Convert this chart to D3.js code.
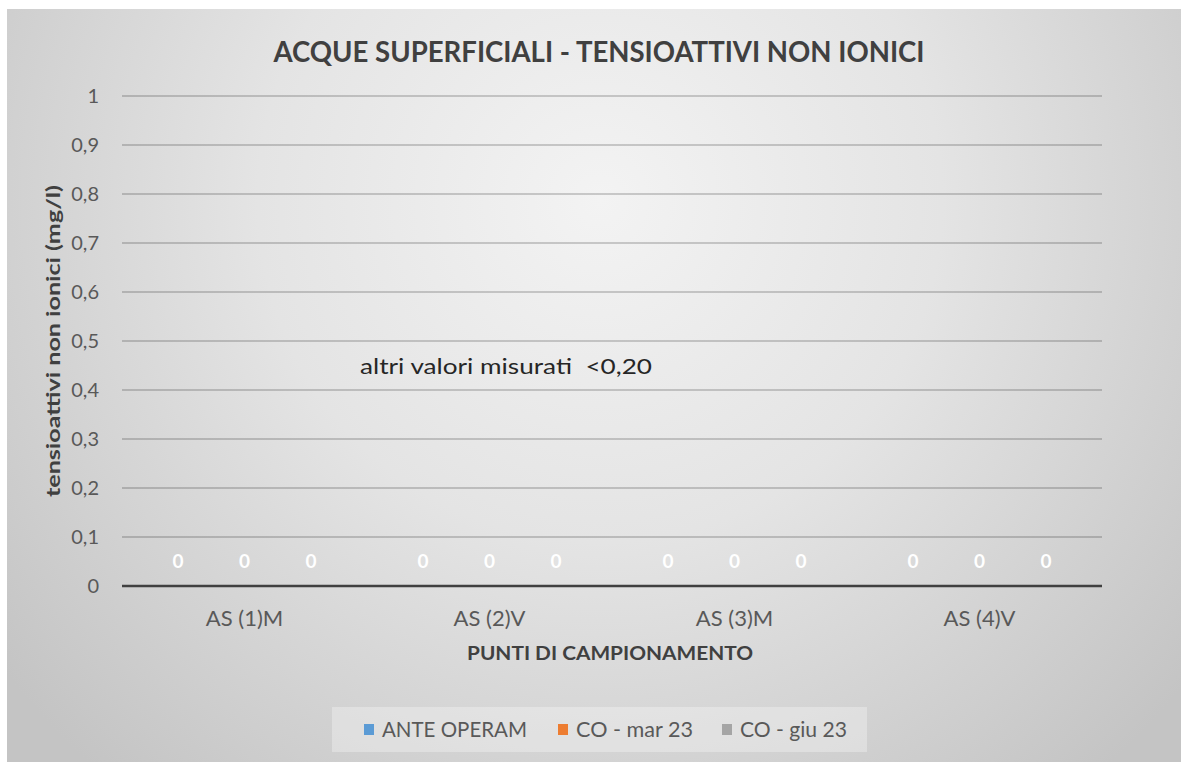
<!DOCTYPE html>
<html>
<head>
<meta charset="utf-8">
<script src="https://cdn.jsdelivr.net/npm/d3@7"></script>
<style>
  body { margin: 0; background: #fff; }
  text { font-family: Lato, "Open Sans", sans-serif; }
</style>
</head>
<body>
<script>
// data
var categories = ["AS (1)M", "AS (2)V", "AS (3)M", "AS (4)V"];
var seriesNames = ["ANTE OPERAM", "CO - mar 23", "CO - giu 23"];
var anteOperam = [0, 0, 0, 0];
var coMar23 = [0, 0, 0, 0];
var coGiu23 = [0, 0, 0, 0];
var yTicks = [0, 0.1, 0.2, 0.3, 0.4, 0.5, 0.6, 0.7, 0.8, 0.9, 1];
var colors = ["#5b9bd5", "#ed7d31", "#a5a5a5"];

var series = [anteOperam, coMar23, coGiu23];

var W = 1181, H = 762;
var margin = {top: 96, right: 79, bottom: 176, left: 122},
    width = W - margin.left - margin.right,
    height = H - margin.top - margin.bottom;

var svg = d3.select("body").append("svg")
    .attr("width", W)
    .attr("height", H);

// background gradient
var defs = svg.append("defs");
var grad = defs.append("radialGradient")
    .attr("id", "bg")
    .attr("gradientUnits", "userSpaceOnUse")
    .attr("cx", 600).attr("cy", 200).attr("r", 760);
grad.append("stop").attr("offset", 0).attr("stop-color", "#f3f3f3");
grad.append("stop").attr("offset", 0.45).attr("stop-color", "#e4e4e4");
grad.append("stop").attr("offset", 1).attr("stop-color", "#c4c4c4");

svg.append("rect")
    .attr("x", 7).attr("y", 9)
    .attr("width", W - 7).attr("height", H - 9)
    .attr("fill", "url(#bg)");

var g = svg.append("g")
    .attr("transform", "translate(" + margin.left + "," + margin.top + ")");

var x0 = d3.scaleBand()
    .domain(categories)
    .range([0, width]);

var x1 = d3.scaleBand()
    .domain(d3.range(seriesNames.length))
    .range([0, x0.bandwidth()])
    .paddingOuter(0.34);

var y = d3.scaleLinear()
    .domain([0, 1])
    .range([height, 0]);

// gridlines
g.selectAll(".grid")
    .data(yTicks.filter(function(d) { return d > 0; }))
    .enter().append("line")
    .attr("x1", 0).attr("x2", width)
    .attr("y1", function(d) { return y(d); })
    .attr("y2", function(d) { return y(d); })
    .attr("stroke", "#000")
    .attr("stroke-opacity", 0.24)
    .attr("stroke-width", 1.5);

// y axis labels
var yAxis = d3.axisLeft(y)
    .tickValues(yTicks)
    .tickSize(0)
    .tickPadding(23)
    .tickFormat(function(d) { return String(+d.toFixed(1)).replace(".", ","); });

var ya = g.append("g").call(yAxis);
ya.select(".domain").remove();
ya.selectAll("text")
    .attr("fill", "#595959")
    .style("font-size", "20px")
    .style("font-family", "Lato, sans-serif");

// bars (all zero)
var groups = g.selectAll(".cat")
    .data(categories)
    .enter().append("g")
    .attr("transform", function(d) { return "translate(" + x0(d) + ",0)"; });

groups.selectAll("rect")
    .data(function(d, i) { return series.map(function(s, k) { return {k: k, v: s[i]}; }); })
    .enter().append("rect")
    .attr("x", function(d) { return x1(d.k); })
    .attr("width", x1.bandwidth())
    .attr("y", function(d) { return y(d.v); })
    .attr("height", function(d) { return height - y(d.v); })
    .attr("fill", function(d) { return colors[d.k]; });

groups.selectAll(".lbl")
    .data(function(d, i) { return series.map(function(s, k) { return {k: k, v: s[i]}; }); })
    .enter().append("text")
    .attr("x", function(d) { return x1(d.k) + x1.bandwidth() / 2; })
    .attr("y", function(d) { return y(d.v) - 18; })
    .attr("text-anchor", "middle")
    .attr("fill", "#fff")
    .style("font-size", "19px")
    .style("font-weight", "bold")
    .style("font-family", "Lato, sans-serif")
    .text(function(d) { return d.v; });

// zero axis line
g.append("line")
    .attr("x1", 0).attr("x2", width)
    .attr("y1", y(0)).attr("y2", y(0))
    .attr("stroke", "#404040")
    .attr("stroke-width", 2.5);

// x axis labels
var xAxis = d3.axisBottom(x0).tickSize(0).tickPadding(24);
var xa = g.append("g")
    .attr("transform", "translate(0," + height + ")")
    .call(xAxis);
xa.select(".domain").remove();
xa.selectAll("text")
    .attr("fill", "#595959")
    .style("font-size", "22px")
    .style("font-family", "Lato, sans-serif");

// titles
svg.append("text")
    .attr("x", 599).attr("y", 62)
    .attr("text-anchor", "middle")
    .attr("fill", "#404040")
    .style("font-size", "28px")
    .style("font-weight", "bold")
    .attr("textLength", 651)
    .attr("lengthAdjust", "spacingAndGlyphs")
    .text("ACQUE SUPERFICIALI - TENSIOATTIVI NON IONICI");

svg.append("text")
    .attr("x", 610).attr("y", 660)
    .attr("text-anchor", "middle")
    .attr("fill", "#404040")
    .style("font-size", "18px")
    .style("font-weight", "bold")
    .attr("textLength", 286)
    .attr("lengthAdjust", "spacingAndGlyphs")
    .text("PUNTI DI CAMPIONAMENTO");

svg.append("text")
    .attr("transform", "translate(60,341) rotate(-90)")
    .attr("text-anchor", "middle")
    .attr("fill", "#404040")
    .style("font-size", "18px")
    .style("font-weight", "bold")
    .attr("textLength", 312)
    .attr("lengthAdjust", "spacingAndGlyphs")
    .text("tensioattivi non ionici (mg/l)");

// annotation
svg.append("text")
    .attr("x", 360).attr("y", 374)
    .attr("fill", "#262626")
    .style("font-size", "22px")
    .style("white-space", "pre")
    .attr("textLength", 292)
    .attr("lengthAdjust", "spacingAndGlyphs")
    .text("altri valori misurati  <0,20");

// legend
svg.append("rect")
    .attr("x", 332).attr("y", 707)
    .attr("width", 535).attr("height", 45)
    .attr("fill", "#fff").attr("fill-opacity", 0.3);

var legX = [364, 558, 722];
var legW = [145, 117, 107];
var leg = svg.selectAll(".leg")
    .data(seriesNames)
    .enter().append("g")
    .attr("transform", function(d, i) { return "translate(" + legX[i] + ",729)"; });
leg.append("rect")
    .attr("x", 0).attr("y", -5)
    .attr("width", 10).attr("height", 11)
    .attr("fill", function(d, i) { return colors[i]; });
leg.append("text")
    .attr("x", 18).attr("y", 8)
    .attr("fill", "#595959")
    .style("font-size", "22px")
    .attr("textLength", function(d, i) { return legW[i]; })
    .attr("lengthAdjust", "spacingAndGlyphs")
    .text(function(d) { return d; });
</script>
</body>
</html>
